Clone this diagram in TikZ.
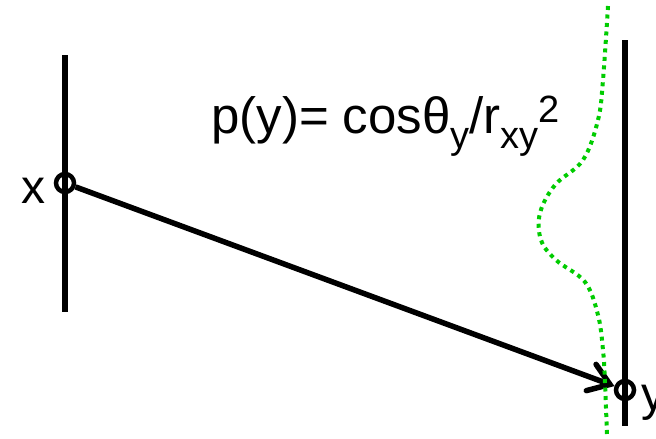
\documentclass[tikz,border=0pt]{standalone}
\usepackage{fontspec}
\setmainfont{Liberation Sans}
\usetikzlibrary{arrows.meta}
\newcommand{\mysub}[1]{\raisebox{-15pt}{\fontsize{38}{40}\selectfont #1}}
\newcommand{\mysup}[1]{\raisebox{11pt}{\fontsize{38}{40}\selectfont #1}}
\begin{document}
\begin{tikzpicture}[x=1pt,y=-1pt,
  bar/.style={line width=6pt},
  pt/.style={circle,draw,line width=4.5pt,minimum size=18pt,inner sep=0pt},
  ray/.style={line width=5.5pt,-{Straight Barb[length=20pt,width=28pt,line cap=round]}},
  gauss/.style={draw=green!80!black,line width=4pt,dash pattern=on 4pt off 4.5pt},
  lbl/.style={inner sep=0pt,font=\fontsize{48}{56}\selectfont},
  eq/.style={inner sep=0pt,font=\fontsize{51}{60}\selectfont}]
\useasboundingbox (0,0) rectangle (656,439);
\coordinate (lt) at (65,55);
\coordinate (lb) at (65,312);
\coordinate (rt) at (625,40);
\coordinate (rb) at (625,426);
\draw[bar] (lt) -- (lb);
\draw[bar] (rt) -- (rb);
\node[pt] (xp) at (65,183) {};
\node[pt] (yp) at (625,390) {};
\draw[ray] (xp) -- (yp);
\draw[gauss] plot[smooth,tension=0.6] coordinates {(608,6) (603,80) (598,120) (583,160) (555,185) (540,213) (541,240) (556,260) (585,282) (598,315) (603,350) (605,383) (607,436)};
\node[lbl,anchor=base west] (xl) at (21,203) {x};
\node[lbl,anchor=base west] (yl) at (641,410) {y};
\node[eq,anchor=base west] (eqn) at (211,133) {p(y)= cosθ\mysub{y}/r\mysub{xy}\mysup{2}};
\end{tikzpicture}
\end{document}
